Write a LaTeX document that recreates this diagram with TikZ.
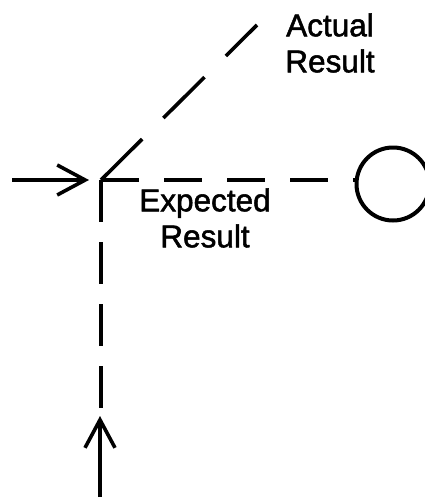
\documentclass[tikz,border=0pt]{standalone}
\usepackage{fontspec}
\setmainfont{Liberation Sans}
\newfontfamily\lblfont[FakeBold=1.6]{Liberation Sans}
\usetikzlibrary{arrows.meta}
\begin{document}
\begin{tikzpicture}[x=1pt,y=-1pt,
  line/.style={line width=3.6pt},
  hdash/.style={line, dash pattern=on 38pt off 25pt},
  vdash/.style={line, dash pattern=on 42pt off 20pt},
  ddash/.style={line, dash pattern=on 58pt off 30pt},
  inarrow/.style={line, -{Straight Barb[length=28pt,width=30pt,line width=3.6pt]}},
  label/.style={align=center, inner sep=0pt, font=\lblfont\fontsize{31.5}{36}\selectfont},
  result/.style={circle, draw, line width=4pt, minimum size=73pt, inner sep=0pt}]
\useasboundingbox (0,0) rectangle (425,498);
\coordinate (corner) at (101,180);
\coordinate (hin) at (12,180);
\coordinate (hend) at (89,180);
\coordinate (vin) at (100,497);
\coordinate (vend) at (100,416);
\coordinate (dend) at (257,25);
\coordinate (vdashend) at (101,410);
\node[result] (res) at (393,184) {};
\node[label] (actual) at (330,43) {Actual\\Result};
\node[label] (expected) at (205,218) {Expected\\Result};
\draw[inarrow] (hin) -- (hend);
\draw[inarrow] (vin) -- (vend);
\draw[hdash] (corner) -- (res.west |- corner);
\draw[vdash] (corner) -- (vdashend);
\draw[ddash] (corner) -- (dend);
\end{tikzpicture}
\end{document}
